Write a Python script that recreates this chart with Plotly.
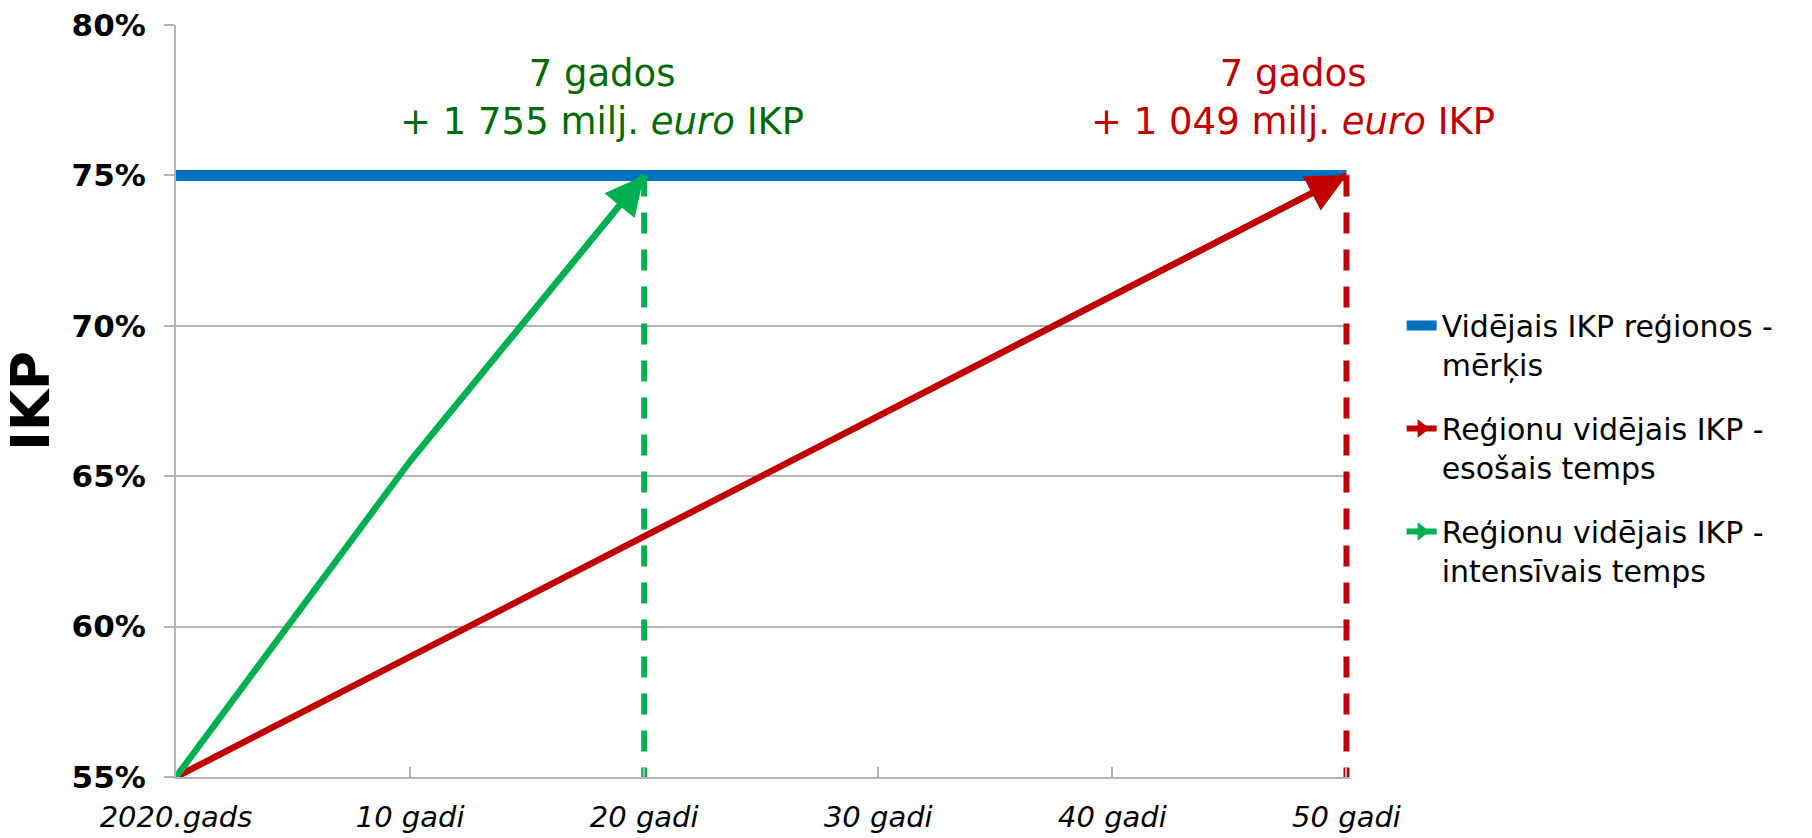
import plotly.graph_objects as go

# ---- data ----
x_labels = ["2020.gads", "10 gadi", "20 gadi", "30 gadi", "40 gadi", "50 gadi"]
x_years = [0, 10, 20, 30, 40, 50]

target_x = [0, 10, 20, 30, 40, 50]
target_pct = [75, 75, 75, 75, 75, 75]

current_x = [0, 10, 20, 30, 40, 50]
current_pct = [55, 59, 63, 67, 71, 75]

intensive_x = [0, 10, 20]
intensive_pct = [55, 65.5, 75]

y_ticks = [55, 60, 65, 70, 75, 80]
y_labels = ["55%", "60%", "65%", "70%", "75%", "80%"]

name_target = "Vidējais IKP reģionos -<br>mērķis"
name_current = "Reģionu vidējais IKP -<br>esošais temps"
name_intensive = "Reģionu vidējais IKP -<br>intensīvais temps"

note_intensive = "7 gados<br>+ 1 755 milj. <i>euro</i> IKP"
note_current = "7 gados<br>+ 1 049 milj. <i>euro</i> IKP"

# ---- styles ----
BLUE = "#0070C0"
RED = "#C00000"
GREEN = "#00B050"
GREEN_TXT = "#006B00"
GRID = "#B3B3B3"
FONT = "DejaVu Sans"

fig = go.Figure()

# target line
fig.add_trace(go.Scatter(
    x=target_x, y=target_pct, mode="lines", name=name_target,
    line=dict(color=BLUE, width=11), legendgroup="a", hoverinfo="skip"))

# dashed drop lines
fig.add_trace(go.Scatter(
    x=[intensive_x[-1], intensive_x[-1]], y=[intensive_pct[-1], y_ticks[0]],
    mode="lines", showlegend=False, hoverinfo="skip",
    line=dict(color=GREEN, width=6, dash="21px,16px")))
fig.add_trace(go.Scatter(
    x=[current_x[-1], current_x[-1]], y=[current_pct[-1], y_ticks[0]],
    mode="lines", showlegend=False, hoverinfo="skip",
    line=dict(color=RED, width=6, dash="21px,16px")))

# growth lines
fig.add_trace(go.Scatter(
    x=current_x, y=current_pct, mode="lines", showlegend=False,
    line=dict(color=RED, width=6.5), legendgroup="b"))
fig.add_trace(go.Scatter(
    x=intensive_x, y=intensive_pct, mode="lines", showlegend=False,
    line=dict(color=GREEN, width=6.5), legendgroup="c"))

# legend-only entries with arrow symbols
fig.add_trace(go.Scatter(
    x=[None], y=[None], mode="lines+markers", name=name_current,
    line=dict(color=RED, width=6), legendgroup="b",
    marker=dict(symbol="triangle-right", size=16, color=RED)))
fig.add_trace(go.Scatter(
    x=[None], y=[None], mode="lines+markers", name=name_intensive,
    line=dict(color=GREEN, width=6), legendgroup="c",
    marker=dict(symbol="triangle-right", size=16, color=GREEN)))

# arrowheads at the ends of the growth lines
for xs, ys, col in [(current_x, current_pct, RED), (intensive_x, intensive_pct, GREEN)]:
    fig.add_annotation(
        x=xs[-1], y=ys[-1], ax=xs[-2], ay=ys[-2],
        xref="x", yref="y", axref="x", ayref="y",
        text="", showarrow=True, arrowhead=2, arrowsize=1.3,
        arrowwidth=6, arrowcolor=col)

# text notes
fig.add_annotation(x=intensive_x[-1], y=0.903, xref="x", yref="paper",
                   xanchor="center", yanchor="middle",
                   xshift=-42, text=note_intensive, showarrow=False,
                   font=dict(family=FONT, size=37, color=GREEN_TXT))
fig.add_annotation(x=current_x[-1], y=0.903, xref="x", yref="paper",
                   xanchor="center", yanchor="middle",
                   xshift=-53, text=note_current, showarrow=False,
                   font=dict(family=FONT, size=37, color=RED))

fig.update_layout(
    width=1812, height=838,
    margin=dict(l=176, r=462, t=25, b=61),
    paper_bgcolor="white", plot_bgcolor="white",
    font=dict(family=FONT, color="black"),
    showlegend=True,
    legend=dict(
        x=1.044, xanchor="left", y=0.635, yanchor="top",
        traceorder="grouped", tracegroupgap=22, valign="top",
        font=dict(family=FONT, size=30, color="black"),
        bgcolor="rgba(0,0,0,0)"),
    xaxis=dict(
        range=[x_years[0], x_years[-1] + 0.15],
        automargin=False,
        tickmode="array", tickvals=x_years, ticktext=x_labels,
        ticks="inside", ticklen=10, tickwidth=1.5, tickcolor=GRID,
        showgrid=False, zeroline=False,
        showline=True, linecolor=GRID, linewidth=2,
        ticklabelstandoff=13,
        tickfont=dict(family=FONT, size=29, style="italic", color="black")),
    yaxis=dict(
        range=[y_ticks[0], y_ticks[-1]],
        automargin=False,
        tickmode="array", tickvals=y_ticks, ticktext=y_labels,
        ticks="outside", ticklen=10, tickwidth=1.5, tickcolor=GRID,
        showgrid=True, gridcolor=GRID, gridwidth=1.5,
        zeroline=False, showline=True, linecolor=GRID, linewidth=2,
        ticklabelstandoff=12,
        tickfont=dict(family=FONT, size=31, weight="bold", color="black")),
)
fig.update_yaxes(title=dict(text="IKP", standoff=27,
                            font=dict(family=FONT, size=53, weight="bold", color="black")))

fig.write_html("out.html", config={"displayModeBar": False},
               post_script="document.body.style.margin='0';")
